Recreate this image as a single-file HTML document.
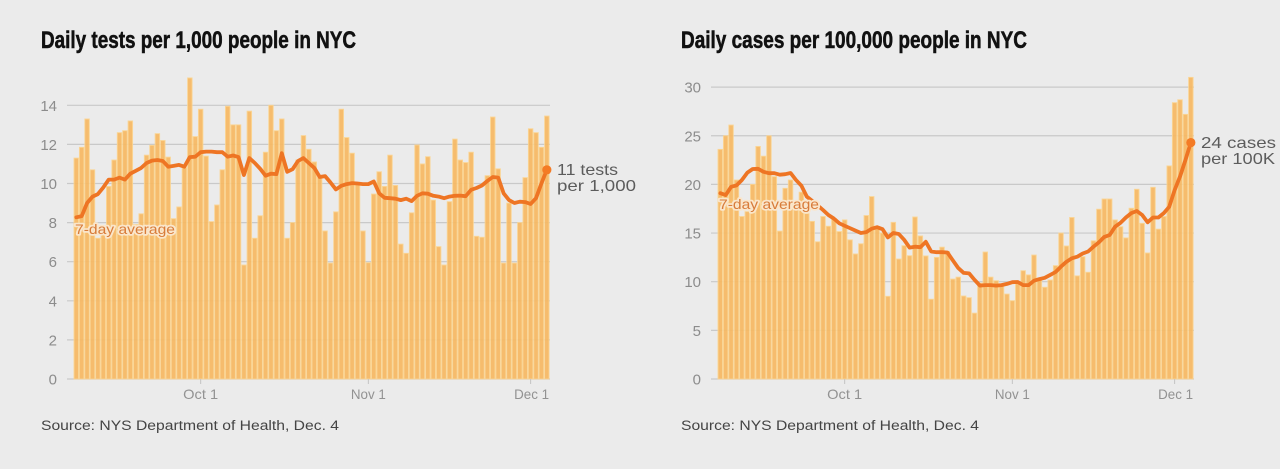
<!DOCTYPE html>
<html lang="en">
<head>
<meta charset="utf-8">
<title>Daily tests and cases in NYC</title>
<style>
html,body{margin:0;padding:0;background:#ebebeb;width:1280px;height:469px;overflow:hidden}
svg{display:block}
text{font-family:"Liberation Sans",sans-serif}
.title{font-weight:700;font-size:24px;fill:#111;stroke:#111;stroke-width:.55px}
.source{font-size:13.5px;fill:#444}
.ytick{font-size:15px;fill:#8c8c8c;text-anchor:end}
.xtick{font-size:14px;fill:#929292;text-anchor:middle}
.note{font-size:16px;fill:#5c5c5c}
.avg{font-size:14px;font-weight:400;fill:#d87c3a;stroke:#fae6cb;stroke-width:3.4px;paint-order:stroke;stroke-linejoin:round}
</style>
</head>
<body>
<svg id="root" width="1280" height="469" viewBox="0 0 1280 469" xmlns="http://www.w3.org/2000/svg">
  <rect width="1280" height="469" fill="#ebebeb"/>
  <text class="title" x="41" y="48" textLength="315" lengthAdjust="spacingAndGlyphs">Daily tests per 1,000 people in NYC</text>
  <text class="title" x="681" y="48" textLength="346" lengthAdjust="spacingAndGlyphs">Daily cases per 100,000 people in NYC</text>
  <g id="tests-chart"></g>
  <g id="cases-chart"></g>
  <text class="source" x="41" y="430" textLength="298" lengthAdjust="spacingAndGlyphs">Source: NYS Department of Health, Dec. 4</text>
  <text class="source" x="681" y="430" textLength="298" lengthAdjust="spacingAndGlyphs">Source: NYS Department of Health, Dec. 4</text>
</svg>
<script>
const xTickLabels = ['Oct 1', 'Nov 1', 'Dec 1'];
const xTickDayIndex = [23, 54, 84];

const testsYTicks = [0, 2, 4, 6, 8, 10, 12, 14];
const testsBars = [11.3,11.85,13.3,10.7,7.2,7.4,9.85,11.2,12.6,12.7,13.2,7.9,8.45,11.45,11.95,12.55,12.2,11.35,8.2,8.8,10.8,15.4,12.4,13.8,11.4,8.05,8.9,10.7,13.95,13.0,13.0,5.83,13.7,7.2,8.35,11.6,14.0,12.7,13.3,7.2,8.0,11.2,12.45,11.75,11.1,10.3,7.57,5.93,8.55,13.8,12.35,11.55,10.0,7.57,5.95,9.46,10.6,9.85,11.45,9.9,6.9,6.43,8.5,11.97,11.0,11.37,9.15,6.77,5.83,9.07,12.27,11.2,11.07,11.6,7.3,7.25,10.4,13.4,10.75,5.93,9.0,5.93,8.0,10.3,12.8,12.6,11.85,13.45];
const testsAverage = [8.27,8.33,9.0,9.33,9.46,9.8,10.2,10.2,10.3,10.2,10.5,10.65,10.8,11.05,11.17,11.2,11.15,10.86,10.9,10.95,10.86,11.35,11.37,11.6,11.63,11.63,11.6,11.6,11.37,11.43,11.35,10.43,11.3,11.05,10.75,10.4,10.5,10.48,11.55,10.6,10.73,11.15,11.3,11.05,10.8,10.33,10.38,10.05,9.7,9.88,9.97,10.02,10.0,9.97,9.97,10.1,9.5,9.27,9.25,9.22,9.15,9.22,9.1,9.37,9.5,9.48,9.37,9.33,9.25,9.33,9.37,9.38,9.35,9.68,9.77,9.9,10.13,10.33,10.3,9.5,9.15,9.0,9.07,9.05,8.95,9.25,10.0,10.7];

const casesYTicks = [0, 5, 10, 15, 20, 25, 30];
const casesBars = [23.6,25.0,26.1,20.45,16.7,17.2,20.0,23.9,22.9,25.0,20.8,15.2,19.6,20.45,17.9,19.2,17.0,16.2,14.1,16.7,15.7,16.5,15.15,16.35,14.3,12.85,13.9,16.8,18.75,15.6,15.0,8.5,16.1,12.33,13.7,12.67,16.65,14.7,12.65,8.2,12.5,13.55,13.1,10.27,10.47,8.53,8.36,6.77,9.85,13.05,10.47,10.1,9.56,8.73,8.05,9.85,11.13,10.7,12.74,10.17,9.43,10.17,11.65,15.0,13.67,16.6,10.6,12.57,10.97,14.2,17.45,18.5,18.5,16.35,15.65,14.5,17.55,19.5,16.0,12.95,19.7,15.4,16.7,21.9,28.4,28.7,27.2,31.0];
const casesAverage = [19.1,18.9,19.75,19.9,20.45,21.2,21.58,21.6,21.3,21.15,21.15,21.0,21.05,21.17,20.45,19.87,18.75,18.3,17.85,17.37,16.85,16.5,16.0,15.75,15.5,15.25,15.0,15.1,15.45,15.6,15.4,14.55,15.0,14.9,14.3,13.5,13.6,13.55,14.1,13.1,13.03,13.03,13.0,12.2,11.4,10.9,10.85,10.2,9.6,9.65,9.65,9.6,9.65,9.77,9.95,9.97,9.65,9.65,10.1,10.27,10.4,10.7,11.0,11.55,12.05,12.4,12.57,12.9,13.1,13.6,14.05,14.6,14.8,15.65,16.05,16.6,17.05,17.27,16.85,16.1,16.6,16.6,17.05,17.7,19.4,20.8,22.5,24.3];

const NS = 'http://www.w3.org/2000/svg';

function make(parent, tag, attrs, text) {
  const el = document.createElementNS(NS, tag);
  for (const k in attrs) el.setAttribute(k, attrs[k]);
  if (text !== undefined) el.textContent = text;
  parent.appendChild(el);
  return el;
}

function drawChart(cfg) {
  const g = document.getElementById(cfg.id);
  const step = (cfg.right - cfg.left) / cfg.bars.length;
  const barW = step - 0.9;
  const xBar = i => cfg.left + i * step;
  const xMid = i => xBar(i) + barW / 2;
  const y = v => cfg.y0 - v * cfg.unit;

  cfg.yTicks.forEach(t => {
    const grid = make(g, 'line', {x1: cfg.gridLeft, x2: cfg.right, y1: y(t), y2: y(t), stroke: '#c9c9c9', 'stroke-width': 1.2});
    
    
    const lab = make(g, 'text', {class: 'ytick', x: cfg.gridLeft - 10, y: y(t) + 5.5}, String(t));
    
    
  });

  cfg.bars.forEach((v, i) => {
    const bar = make(g, 'rect', {x: xBar(i), y: y(v), width: barW, height: cfg.y0 - y(v), fill: '#f7b963', opacity: 0.92, stroke: '#fcd48f', 'stroke-width': 0.9});
    
    
  });

  xTickLabels.forEach((label, k) => {
    const tx = xMid(xTickDayIndex[k]);
    const tick = make(g, 'line', {x1: tx, x2: tx, y1: cfg.y0, y2: cfg.y0 + 5, stroke: '#c4c4c4', 'stroke-width': 1});
    
    
    const lab = make(g, 'text', {class: 'xtick', x: tx + (k === 2 ? 1 : 0), y: cfg.y0 + 20, textLength: 35, lengthAdjust: 'spacingAndGlyphs'}, label);
    
    
  });

  const pts = cfg.average.map((v, i) => xMid(i).toFixed(1) + ',' + y(v).toFixed(1)).join(' ');
  const line = make(g, 'polyline', {points: pts, fill: 'none', stroke: '#ee7524', 'stroke-width': 3.8, 'stroke-linejoin': 'round', 'stroke-linecap': 'round'});
  
  

  const last = cfg.average.length - 1;
  const dot = make(g, 'circle', {cx: xMid(last), cy: y(cfg.average[last]), r: 4.6, fill: '#f47b25'});
  
  

  const avgLabel = make(g, 'text', {class: 'avg', x: cfg.avgX, y: cfg.avgY, textLength: 100, lengthAdjust: 'spacingAndGlyphs'}, '7-day average');
  
  

  cfg.note.forEach((txt, k) => {
    const note = make(g, 'text', {class: 'note', x: cfg.noteX, y: cfg.noteY + k * 16, textLength: cfg.noteW[k], lengthAdjust: 'spacingAndGlyphs'}, txt);
    
    
  });
}

drawChart({id: 'tests-chart', bars: testsBars, average: testsAverage, yTicks: testsYTicks,
  left: 74, right: 550, gridLeft: 67, y0: 379, unit: 19.55,
  avgX: 75, avgY: 234, note: ['11 tests', 'per 1,000'], noteX: 557, noteY: 175, noteW: [61, 79]});
drawChart({id: 'cases-chart', bars: casesBars, average: casesAverage, yTicks: casesYTicks,
  left: 718, right: 1194, gridLeft: 711, y0: 379, unit: 9.73,
  avgX: 719, avgY: 209, note: ['24 cases', 'per 100K'], noteX: 1201, noteY: 148, noteW: [75, 74]});
</script>
</body>
</html>
